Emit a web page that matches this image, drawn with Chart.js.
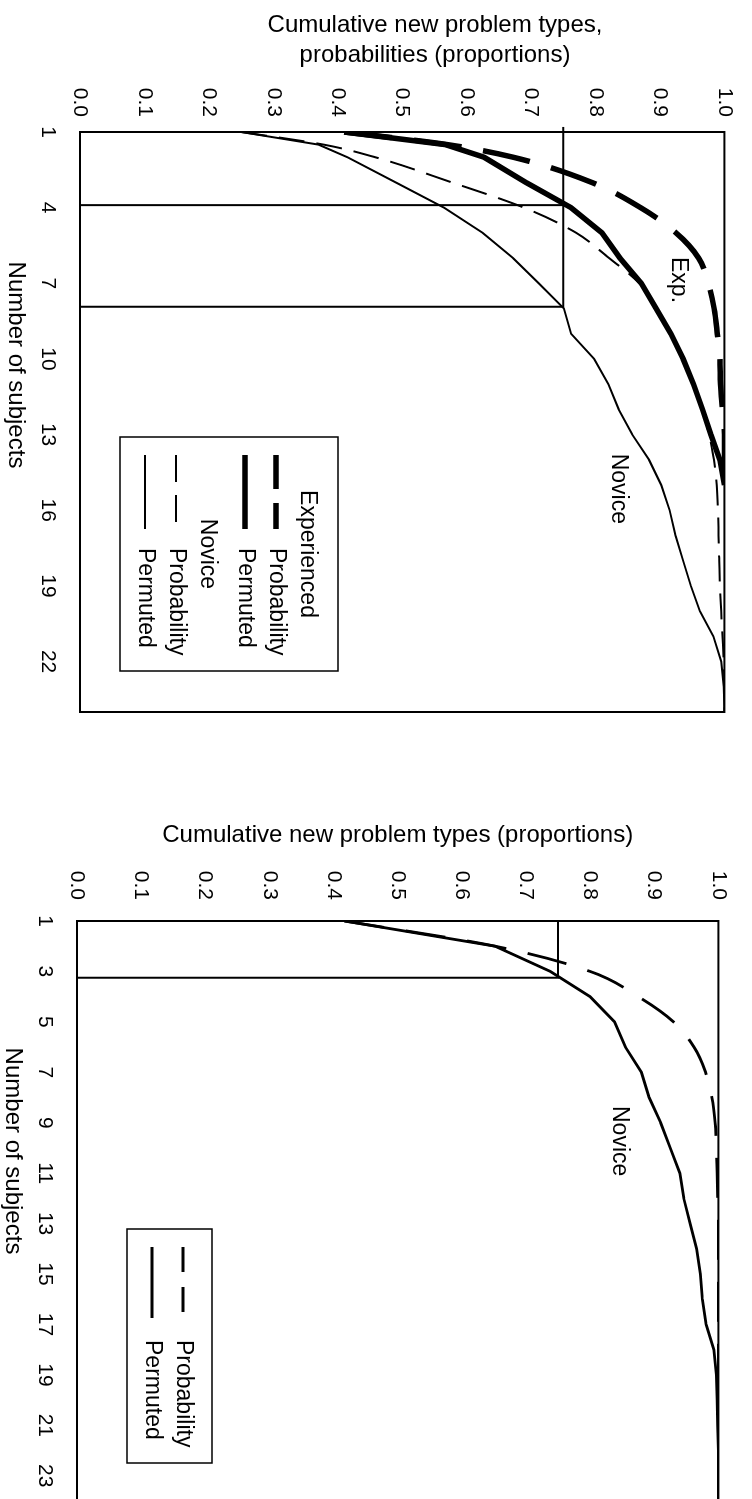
<!DOCTYPE html>
<html>
<head>
<meta charset="utf-8">
<script src="https://cdn.jsdelivr.net/npm/chart.js@4.4.1/dist/chart.umd.min.js"></script>
<style>
  html, body { margin: 0; padding: 0; background: #fff; overflow: hidden; }
  body { width: 752px; height: 1499px; position: relative; }
  /* the figure is printed turned a quarter clockwise, so each chart is drawn upright and rotated */
  .turn { position: absolute; left: 0; width: 740px; height: 752px; transform-origin: 0 0; transform: translate(752px, 0) rotate(90deg); }
  #wrap1 { top: 0; }
  #wrap2 { top: 789px; }
</style>
</head>
<body>
<div class="turn" id="wrap1"><canvas id="chart1" width="740" height="752"></canvas></div>
<div class="turn" id="wrap2"><canvas id="chart2" width="740" height="752"></canvas></div>
<script>
const subjectsTop = [1, 1.5, 2, 3, 4, 5, 6, 7, 8, 9, 10, 11, 12, 13, 14, 15, 16, 17, 18, 19, 20, 21, 22, 23, 24];
const subjects = [1, 2, 3, 4, 5, 6, 7, 8, 9, 10, 11, 12, 13, 14, 15, 16, 17, 18, 19, 20, 21, 22, 23, 24];
const yTicks = [0, 0.1, 0.2, 0.3, 0.4, 0.5, 0.6, 0.7, 0.8, 0.9, 1.0];
const xTicksTop = [1, 4, 7, 10, 13, 16, 19, 22];
const xTicksBottom = [1, 3, 5, 7, 9, 11, 13, 15, 17, 19, 21, 23];

// top figure: experienced vs novice (x from subjectsTop)
const expProbability = [0.41, 0.57, 0.672, 0.794, 0.87, 0.925, 0.96, 0.975, 0.984, 0.989, 0.993, 0.994, 0.997, 1.0, 1.0, 1.0];
const expPermuted = [0.41, 0.567, 0.627, 0.692, 0.762, 0.81, 0.838, 0.871, 0.894, 0.917, 0.936, 0.952, 0.966, 0.979, 0.993, 1.0];
const novProbability = [0.25, 0.378, 0.458, 0.577, 0.689, 0.77, 0.821, 0.868, 0.895, 0.917, 0.935, 0.953, 0.966,
  0.976, 0.984, 0.988, 0.99, 0.991, 0.992, 0.993, 0.995, 0.997, 0.999, 1.0, 1.0];
const novPermuted = [0.25, 0.37, 0.415, 0.49, 0.565, 0.625, 0.672, 0.712, 0.751, 0.762, 0.798, 0.82, 0.836,
  0.857, 0.883, 0.902, 0.915, 0.924, 0.936, 0.948, 0.962, 0.983, 0.995, 0.999, 1.0];
const refTopAX = [0.8, 7.93, 7.93];
const refTopAY = [0.75, 0.75, 0];
const refTopBX = [3.9, 3.9];
const refTopBY = [0, 0.75];

// bottom figure: novices only
const novProbability2 = [0.417, 0.652, 0.80, 0.875, 0.93, 0.962, 0.98, 0.99, 0.995, 0.997, 0.998, 0.999,
  1.0, 1.0, 1.0, 1.0, 1.0, 1.0, 1.0, 1.0, 1.0, 1.0, 1.0, 1.0];
const novPermuted2 = [0.417, 0.652, 0.738, 0.80, 0.838, 0.855, 0.88, 0.892, 0.91, 0.925, 0.94, 0.946,
  0.956, 0.966, 0.972, 0.975, 0.981, 0.993, 0.997, 0.998, 0.999, 1.0, 1.0, 1.0];
const refBotX = [1, 3.25, 3.25];
const refBotY = [0.75, 0.75, 0];

const FONT = '"Liberation Sans", Arial, sans-serif';
Chart.defaults.font.family = FONT;
Chart.defaults.color = '#000';

const pts = (xs, ys) => ys.map((v, i) => ({ x: xs[i], y: v }));

function line(label, xs, ys, width, dash, smooth) {
  return {
    label, data: pts(xs, ys),
    borderColor: '#000', borderWidth: width, borderDash: dash || [],
    borderCapStyle: 'butt', pointRadius: 0, fill: false,
    cubicInterpolationMode: smooth ? 'monotone' : 'default', tension: 0
  };
}

const frameBorder = {
  id: 'frameBorder',
  afterDatasetsDraw(chart) {
    const { ctx, chartArea: a } = chart;
    ctx.save();
    ctx.strokeStyle = '#000';
    ctx.lineWidth = 2;
    ctx.strokeRect(a.left, a.top, a.right - a.left, a.bottom - a.top);
    ctx.restore();
  }
};

const curveLabels = {
  id: 'curveLabels',
  afterDatasetsDraw(chart, args, opts) {
    const { ctx, scales: { x, y } } = chart;
    ctx.save();
    ctx.font = opts.font;
    ctx.fillStyle = '#000';
    ctx.textAlign = 'center';
    ctx.textBaseline = 'middle';
    opts.items.forEach(it => ctx.fillText(it.text, x.getPixelForValue(it.x), y.getPixelForValue(it.y)));
    ctx.restore();
  }
};

// x title sits off-centre in the original, so it is placed by hand
const xTitle = {
  id: 'xTitle',
  afterDraw(chart, args, opts) {
    const ctx = chart.ctx;
    ctx.save();
    ctx.font = opts.font;
    ctx.fillStyle = '#000';
    ctx.textAlign = 'center';
    ctx.textBaseline = 'middle';
    ctx.fillText(opts.text, opts.x, opts.y);
    ctx.restore();
  }
};

// two-line y title of the top chart, also placed off-centre
const sideTitle = {
  id: 'sideTitle',
  afterDraw(chart, args, opts) {
    if (!opts.lines) return;
    const ctx = chart.ctx;
    ctx.save();
    ctx.font = opts.font;
    ctx.fillStyle = '#000';
    ctx.textAlign = 'center';
    ctx.textBaseline = 'middle';
    ctx.translate(opts.x, opts.y);
    ctx.rotate(-Math.PI / 2);
    opts.lines.forEach((t, i) => ctx.fillText(t, 0, i * opts.lineHeight));
    ctx.restore();
  }
};

const boxLegend = {
  id: 'boxLegend',
  afterDraw(chart, args, opts) {
    const ctx = chart.ctx;
    const [x1, y1, x2, y2] = opts.box;
    ctx.save();
    ctx.strokeStyle = '#000';
    ctx.lineWidth = 1.5;
    ctx.strokeRect(x1, y1, x2 - x1, y2 - y1);
    ctx.font = opts.font;
    ctx.fillStyle = '#000';
    ctx.textBaseline = 'middle';
    opts.rows.forEach(r => {
      if (r.header) {
        ctx.textAlign = 'center';
        ctx.fillText(r.header, (x1 + x2) / 2, r.y);
        return;
      }
      const ds = chart.data.datasets[r.dataset];
      ctx.beginPath();
      ctx.lineWidth = ds.borderWidth;
      ctx.setLineDash(r.dash || []);
      ctx.moveTo(opts.sample[0], r.y);
      ctx.lineTo(opts.sample[1], r.y);
      ctx.stroke();
      ctx.setLineDash([]);
      ctx.textAlign = 'left';
      ctx.fillText(ds.label, opts.textX, r.y);
    });
    ctx.restore();
  }
};

function makeChart(id, datasets, o) {
  return new Chart(document.getElementById(id), {
    type: 'line',
    data: { datasets },
    options: {
      responsive: false,
      animation: false,
      parsing: false,
      layout: { padding: { top: o.top, right: 28, bottom: 0, left: 0 } },
      scales: {
        x: {
          type: 'linear', min: 1, max: 24,
          grid: { display: false, drawTicks: false },
          border: { display: false },
          ticks: { font: { size: 21 }, color: '#000', padding: 20, autoSkip: false, maxRotation: 0, minRotation: 0 },
          afterBuildTicks: s => { s.ticks = o.xTicks.map(v => ({ value: v })); },
          afterFit: s => { s.height = o.xHeight; },
          title: { display: false }
        },
        y: {
          type: 'linear', min: 0, max: 1,
          grid: { display: false, drawTicks: false },
          border: { display: false },
          ticks: { font: { size: 21 }, color: '#000', padding: o.yTickPad, callback: v => v.toFixed(1) },
          afterBuildTicks: s => { s.ticks = yTicks.map(v => ({ value: v })); },
          afterFit: s => { s.width = 132; },
          title: {
            display: !!o.yTitle, text: o.yTitle || '', font: { size: 24, lineHeight: 1.25 },
            color: '#000', padding: { top: o.yTitlePad, bottom: 0 }
          }
        }
      },
      plugins: {
        legend: { display: false },
        tooltip: { enabled: false },
        boxLegend: o.legend,
        curveLabels: { font: '23px ' + FONT, items: o.labels },
        xTitle: { text: 'Number of subjects', font: '24px ' + FONT, x: o.xTitleAt[0], y: o.xTitleAt[1] },
        sideTitle: o.sideTitle || {}
      }
    },
    plugins: [frameBorder, curveLabels, boxLegend, xTitle, sideTitle]
  });
}

const chart1 = makeChart('chart1', [
  line('Probability', subjectsTop, expProbability, 5.5, [48, 22], true),
  line('Permuted', subjectsTop, expPermuted, 5.5),
  line('Probability', subjectsTop, novProbability, 2, [26, 12], true),
  line('Permuted', subjectsTop, novPermuted, 2),
  Object.assign(line('', refTopAX, refTopAY, 2), { clip: false }),
  line('', refTopBX, refTopBY, 2)
], {
  top: 21, xHeight: 80, xTicks: xTicksTop, yTickPad: 15,
  xTitleAt: [365, 736],
  sideTitle: {
    lines: ['Cumulative new problem types,', 'probabilities (proportions)'],
    font: '24px ' + FONT, x: 25, y: 317, lineHeight: 30
  },
  labels: [{ text: 'Exp.', x: 6.87, y: 0.928 }, { text: 'Novice', x: 15.15, y: 0.835 }],
  legend: {
    font: '23px ' + FONT, box: [437, 414, 671, 632], sample: [455, 529], textX: 548,
    rows: [
      { header: 'Experienced', y: 445 },
      { dataset: 0, y: 476, dash: [34, 14] },
      { dataset: 1, y: 507 },
      { header: 'Novice', y: 545 },
      { dataset: 2, y: 576, dash: [27, 13] },
      { dataset: 3, y: 607 }
    ]
  }
});

const chart2 = makeChart('chart2', [
  line('Probability', subjects, novProbability2, 2.8, [40, 22], true),
  line('Permuted', subjects, novPermuted2, 2.8),
  line('', refBotX, refBotY, 2)
], {
  top: 30, xHeight: 77, xTicks: xTicksBottom, yTickPad: 21, yTitlePad: 31,
  xTitleAt: [362, 739],
  yTitle: 'Cumulative new problem types (proportions)',
  labels: [{ text: 'Novice', x: 9.73, y: 0.846 }],
  legend: {
    font: '23px ' + FONT, box: [440, 540, 674, 625], sample: [458, 529], textX: 551,
    rows: [
      { dataset: 0, y: 569, dash: [25, 15] },
      { dataset: 1, y: 600 }
    ]
  }
});
</script>
</body>
</html>
